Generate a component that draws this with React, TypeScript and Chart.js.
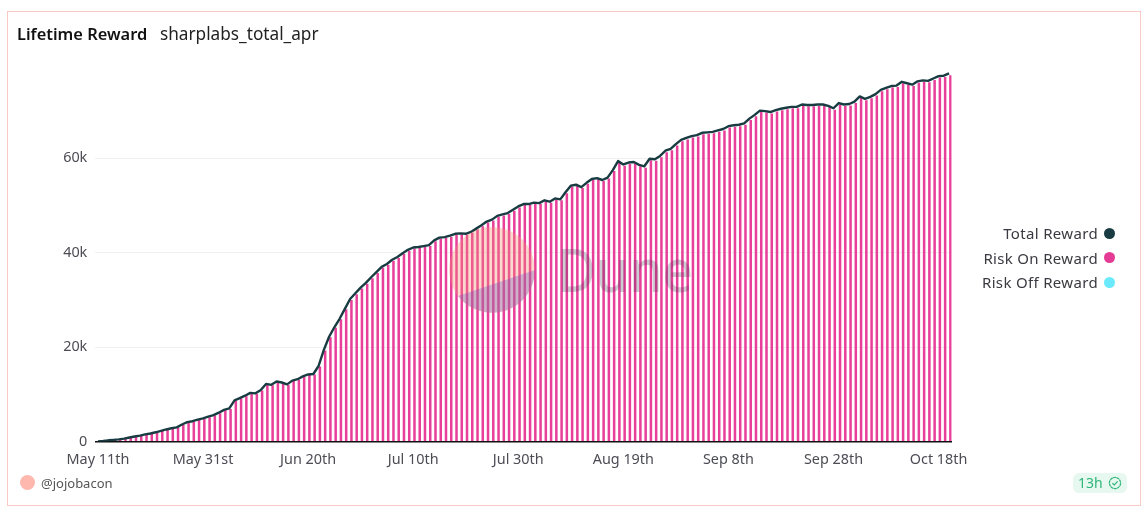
import React, { useEffect, useRef } from "react";
import { Chart, registerables } from "chart.js";

Chart.register(...registerables);

const FONT = '"Noto Sans", sans-serif';

const tickLabels = ["May 11th", "May 31st", "Jun 20th", "Jul 10th", "Jul 30th", "Aug 19th", "Sep 8th", "Sep 28th", "Oct 18th"];
const labelEvery = 20;

const totalReward = [
  0, 0.1, 0.25, 0.35, 0.45, 0.6, 0.85, 1.05, 1.25, 1.5, 1.7, 1.95, 2.25, 2.55, 2.8, 3.0, 3.6, 4.1, 4.3, 4.65,
  4.9, 5.25, 5.6, 6.1, 6.7, 7.0, 8.7, 9.2, 9.7, 10.3, 10.2, 10.9, 12.2, 12.0, 12.7, 12.5, 12.1, 12.9, 13.2, 13.8,
  14.2, 14.3, 16.0, 19.4, 22.2, 24.2, 26.0, 28.1, 30.2, 31.4, 32.6, 33.6, 34.8, 35.9, 37.0, 37.6, 38.5, 39.1, 39.9, 40.6,
  41.1, 41.2, 41.4, 41.6, 42.6, 43.2, 43.3, 43.6, 44.0, 44.1, 44.0, 44.4, 45.1, 45.8, 46.6, 47.0, 47.8, 48.1, 48.4, 49.1,
  49.8, 50.3, 50.3, 50.6, 50.5, 51.1, 50.8, 51.5, 51.3, 52.8, 54.2, 54.4, 53.9, 54.8, 55.6, 55.8, 55.4, 55.9, 57.5, 59.4,
  58.7, 59.1, 59.2, 58.6, 58.3, 59.9, 59.8, 60.5, 61.6, 62.0, 63.0, 63.9, 64.3, 64.7, 64.9, 65.4, 65.5, 65.6, 65.9, 66.2,
  66.8, 67.0, 67.1, 67.4, 68.4, 69.2, 70.1, 70.0, 69.8, 70.2, 70.5, 70.7, 70.9, 70.9, 71.4, 71.3, 71.3, 71.4, 71.4, 71.1,
  70.6, 71.7, 71.4, 71.5, 72.0, 73.1, 72.6, 73.0, 73.6, 74.5, 74.9, 75.3, 75.4, 76.2, 75.9, 75.6, 76.3, 76.5, 76.4, 76.9,
  77.4, 77.5, 78.0,
];

const riskOnReward = [
  0, 0.1, 0.2, 0.3, 0.4, 0.55, 0.8, 1.0, 1.2, 1.45, 1.65, 1.9, 2.2, 2.5, 2.75, 2.95, 3.5, 4.0, 4.2, 4.55,
  4.8, 5.15, 5.5, 6.0, 6.6, 6.9, 8.6, 9.1, 9.6, 10.2, 10.1, 10.8, 12.1, 11.9, 12.6, 12.4, 12.0, 12.8, 13.1, 13.7,
  14.1, 14.2, 15.9, 19.3, 22.1, 24.1, 25.9, 28.0, 30.0, 31.2, 32.4, 33.4, 34.6, 35.7, 36.8, 37.4, 38.3, 38.9, 39.7, 40.4,
  40.9, 41.0, 41.2, 41.4, 42.4, 43.0, 43.1, 43.4, 43.8, 43.9, 43.8, 44.2, 44.9, 45.6, 46.4, 46.8, 47.6, 47.9, 48.2, 48.9,
  49.6, 50.1, 50.1, 50.4, 50.3, 50.9, 50.6, 51.3, 51.1, 52.6, 54.0, 54.2, 53.7, 54.6, 55.4, 55.6, 55.2, 55.7, 57.3, 59.1,
  58.4, 58.8, 58.9, 58.3, 58.0, 59.6, 59.5, 60.2, 61.3, 61.7, 62.7, 63.6, 64.0, 64.4, 64.6, 65.1, 65.2, 65.3, 65.6, 65.9,
  66.5, 66.7, 66.8, 67.1, 68.1, 68.9, 69.8, 69.7, 69.5, 69.9, 70.2, 70.4, 70.6, 70.6, 71.1, 71.0, 71.0, 71.1, 71.1, 70.8,
  70.3, 71.4, 71.1, 71.2, 71.7, 72.8, 72.3, 72.7, 73.3, 74.2, 74.6, 75.0, 75.1, 75.9, 75.6, 75.3, 76.0, 76.2, 76.1, 76.6,
  77.1, 77.2, 77.6,
];

// Risk Off draws nothing readable in the picture; it only keeps its slot beside Risk On.
const riskOffReward: number[] = [];

const categories = totalReward.map((_, i) =>
  i % labelEvery === 0 ? tickLabels[i / labelEvery] ?? "" : ""
);

const legendItems = [
  { label: "Total Reward", color: "#183c42" },
  { label: "Risk On Reward", color: "#e43b94" },
  { label: "Risk Off Reward", color: "#6aeafa" },
];

export default function App() {
  const ref = useRef<HTMLCanvasElement>(null);

  useEffect(() => {
    document.body.style.margin = "0";
    const chart = new Chart(ref.current!, {
      type: "bar",
      data: {
        labels: categories,
        datasets: [
          {
            type: "line",
            label: "Total Reward",
            data: totalReward,
            borderColor: "#183c42",
            borderWidth: 2.4,
            pointRadius: 0,
            borderJoinStyle: "round",
            order: 0,
          },
          {
            type: "bar",
            label: "Risk Off Reward",
            data: riskOffReward,
            backgroundColor: "#6aeafa",
            order: 1,
            barPercentage: 0.96,
            categoryPercentage: 1,
          },
          {
            type: "bar",
            label: "Risk On Reward",
            data: riskOnReward,
            backgroundColor: "#e8409a",
            order: 1,
            barPercentage: 0.96,
            categoryPercentage: 1,
          },
        ] as any,
      },
      options: {
        animation: false,
        responsive: false,
        layout: { padding: { top: 68.6, right: 194.3, left: 0, bottom: 0 } },
        plugins: { legend: { display: false }, tooltip: { enabled: false } },
        scales: {
          x: {
            grid: { display: false },
            border: { display: true, color: "#111", width: 1.5 },
            afterFit: (s: any) => {
              s.height = 75.5;
            },
            ticks: {
              autoSkip: false,
              maxRotation: 0,
              color: "#4c4c55",
              padding: 2,
              font: { family: FONT, size: 14.4 },
            },
          },
          y: {
            min: 0,
            max: 79,
            grid: { color: "#efefef", drawTicks: false },
            border: { display: false },
            afterBuildTicks: (s: any) => {
              s.ticks = s.ticks.filter((t: any) => t.value % 20 === 0);
            },
            afterFit: (s: any) => {
              s.width = 95.3;
            },
            ticks: {
              stepSize: 20,
              color: "#4c4c55",
              padding: 8,
              font: { family: FONT, size: 14.4 },
              callback: (v: any) => (v === 0 ? "0" : `${v}k`),
            },
          },
        },
      },
    });
    return () => chart.destroy();
  }, []);

  return (
    <div style={{ position: "relative", width: 1146, height: 517, background: "#fff", fontFamily: FONT, overflow: "hidden" }}>
      <div style={{ position: "absolute", left: 7, top: 11, width: 1132, height: 493, border: "1px solid #f8c9c5" }} />
      <canvas ref={ref} width={1146} height={517} style={{ position: "absolute", left: 0, top: 0, width: 1146, height: 517 }} />

      <svg width={1146} height={517} style={{ position: "absolute", left: 0, top: 0, pointerEvents: "none" }}>
        <circle cx={492} cy={270} r={43} fill="rgba(245,145,115,0.34)" />
        <path d="M458 296 L535 270 A43 43 0 0 1 458 296 Z" fill="rgba(100,80,190,0.3)" />
        <text x={557} y={292} fontFamily={FONT} fontSize={60} fontWeight={500} textLength={136} lengthAdjust="spacingAndGlyphs" fill="rgba(60,55,80,0.25)">Dune</text>
      </svg>

      <div style={{ position: "absolute", left: 17, top: 22, fontSize: 16.4, fontWeight: 600, color: "#111", whiteSpace: "nowrap" }}>Lifetime Reward</div>
      <div style={{ position: "absolute", left: 160, top: 22, fontSize: 17.2, color: "#222", whiteSpace: "nowrap" }}>sharplabs_total_apr</div>

      {legendItems.map((item, i) => (
        <div key={item.label} style={{ position: "absolute", right: 31, top: 223 + i * 24.5, display: "flex", alignItems: "center", fontSize: 15, letterSpacing: 0.33, color: "#3a3a42", whiteSpace: "nowrap", height: 20 }}>
          <span>{item.label}</span>
          <span style={{ display: "inline-block", width: 11, height: 11, borderRadius: "50%", background: item.color, marginLeft: 6 }} />
        </div>
      ))}

      <div style={{ position: "absolute", left: 20, top: 475, width: 15, height: 15, borderRadius: "50%", background: "#ffb8ae" }} />
      <div style={{ position: "absolute", left: 41, top: 474, fontSize: 13, color: "#555", whiteSpace: "nowrap" }}>@jojobacon</div>

      <div style={{ position: "absolute", left: 1073, top: 473, width: 54, height: 20, borderRadius: 6, background: "#e6f8ef" }}>
        <span style={{ position: "absolute", left: 5, top: 0, fontSize: 14, lineHeight: "19px", color: "#2fb67a" }}>13h</span>
        <svg width={14} height={14} viewBox="0 0 14 14" style={{ position: "absolute", left: 35, top: 3 }}>
          <circle cx={7} cy={7} r={5.6} fill="none" stroke="#2fb67a" strokeWidth={1.2} strokeDasharray="3 0.4" />
          <path d="M4.4 7.2 L6.3 9 L9.6 5.3" fill="none" stroke="#2fb67a" strokeWidth={1.2} />
        </svg>
      </div>
    </div>
  );
}
